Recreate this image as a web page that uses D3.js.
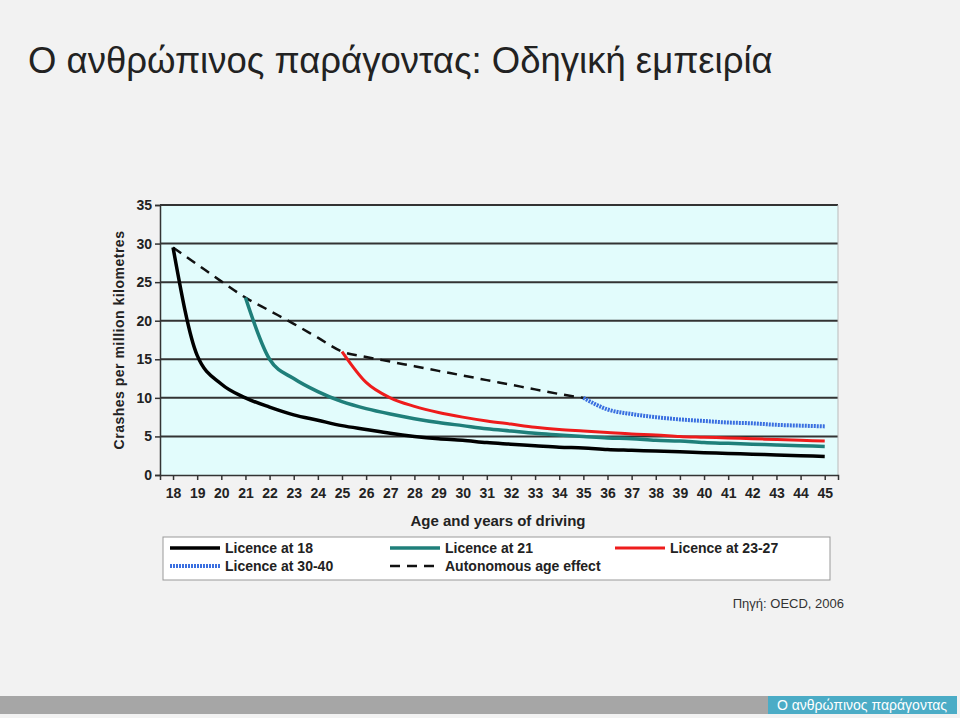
<!DOCTYPE html><html><head><meta charset="utf-8"><script src="https://cdn.jsdelivr.net/npm/d3@7"></script>
<style>body{margin:0;background:#f2f2f2}</style></head><body><svg id="c" width="960" height="718"></svg>
<script>
const years=d3.range(18,46);
const yTicks=[0,5,10,15,20,25,30,35];
const lic18=[29.5,15.5,11.8,10,8.8,7.8,7.1,6.4,5.9,5.4,5.0,4.7,4.5,4.2,4.0,3.8,3.6,3.5,3.3,3.2,3.1,3.0,2.9,2.8,2.7,2.6,2.5,2.4];
const lic21=[23,15,12.5,10.8,9.5,8.6,7.9,7.3,6.8,6.4,6.0,5.7,5.4,5.2,5.0,4.8,4.7,4.5,4.4,4.2,4.1,4.0,3.9,3.8,3.7];
const lic25=[16,12,10,8.9,8.1,7.5,7.0,6.6,6.2,5.9,5.7,5.5,5.3,5.2,5.0,4.9,4.8,4.7,4.6,4.5,4.4];
const lic35=[10,8.5,7.9,7.5,7.2,7.0,6.8,6.7,6.5,6.4,6.3];
const autoAge=[29.5,27.3,25.1,23,21.3,19.6,17.8,16,15.3,14.7,14.1,13.5,12.9,12.3,11.7,11.1,10.5,10];
const series=[
 {name:"Licence at 18",start:18,vals:lic18,color:"#000",dash:null,w:3.5},
 {name:"Licence at 21",start:21,vals:lic21,color:"#1f7f7a",dash:null,w:3.5},
 {name:"Licence at 23-27",start:25,vals:lic25,color:"#ee1c1c",dash:null,w:3},
 {name:"Licence at 30-40",start:35,vals:lic35,color:"#3a6fe0",dash:"2,1",w:4},
 {name:"Autonomous age effect",start:18,vals:autoAge,color:"#111",dash:"10,7",w:2.5}];
const svg=d3.select("#c");
svg.append("text").attr("x",28).attr("y",73).attr("font-family","Liberation Sans, Arial").attr("font-size",36.5).attr("fill","#222").text("Ο ανθρώπινος παράγοντας: Οδηγική εμπειρία");
const L=160,R=838,T=205,B=475;
const x=d3.scaleLinear().domain([17.46,45.55]).range([L,R]);
const y=d3.scaleLinear().domain([0,35]).range([B,T]);
svg.append("rect").attr("x",L).attr("y",T).attr("width",R-L).attr("height",B-T).attr("fill","#e2fcfc");
svg.append("g").selectAll("line").data(yTicks.filter(d=>d>0)).join("line").attr("x1",L).attr("x2",R).attr("y1",y).attr("y2",y).attr("stroke","#333").attr("stroke-width",2);
svg.append("line").attr("x1",R).attr("x2",R).attr("y1",T).attr("y2",B).attr("stroke","#bbb");
const f="Liberation Sans Narrow, Arial Narrow, Liberation Sans, sans-serif";
const ya=svg.append("g").attr("transform",`translate(${L},0)`).call(d3.axisLeft(y).tickValues(yTicks).tickSize(5));
const xa=svg.append("g").attr("transform",`translate(0,${B})`).call(d3.axisBottom(x).tickValues(years).tickFormat(d3.format("d")).tickSize(5));
[ya,xa].forEach(a=>{a.selectAll("text").attr("font-family",f).attr("font-weight","bold").attr("font-size",14).attr("fill","#222");a.selectAll("line,path").attr("stroke","#333").attr("stroke-width",1.5);});
xa.selectAll("text").attr("dy","1.1em");
svg.append("text").attr("x",498).attr("y",526).attr("text-anchor","middle").attr("font-family",f).attr("font-weight","bold").attr("font-size",15).attr("fill","#222").text("Age and years of driving");
svg.append("text").attr("transform","translate(124,340) rotate(-90)").attr("text-anchor","middle").attr("font-family",f).attr("font-weight","bold").attr("font-size",14).attr("letter-spacing","0.5").attr("fill","#222").text("Crashes per million kilometres");
const line=d3.line().x(d=>x(d[0])).y(d=>y(d[1])).curve(d3.curveMonotoneX);
series.slice().reverse().forEach(s=>{
 svg.append("path").datum(s.vals.map((v,i)=>[s.start+i,v])).attr("d",line).attr("fill","none").attr("stroke",s.color).attr("stroke-width",s.w).attr("stroke-dasharray",s.dash);
});
svg.append("rect").attr("x",163).attr("y",537).attr("width",667).attr("height",43).attr("fill","#fff").attr("stroke","#999");
const pos=[[170,548],[390,548],[615,548],[170,566],[390,566]];
series.forEach((s,i)=>{const [px,py]=pos[i];
 svg.append("line").attr("x1",px).attr("x2",px+50).attr("y1",py).attr("y2",py).attr("stroke",s.color).attr("stroke-width",s.w).attr("stroke-dasharray",s.dash);
 svg.append("text").attr("x",px+55).attr("y",py+5).attr("font-family",f).attr("font-weight","bold").attr("font-size",14).attr("fill","#222").text(s.name);});
svg.append("text").attr("x",844).attr("y",608).attr("text-anchor","end").attr("font-family","Liberation Sans, Arial").attr("font-size",13).attr("fill","#333").text("Πηγή: OECD, 2006");
svg.append("rect").attr("x",0).attr("y",696).attr("width",768).attr("height",18).attr("fill","#a6a6a6");
svg.append("rect").attr("x",768).attr("y",696).attr("width",189).attr("height",18).attr("fill","#4bacc6");
svg.append("text").attr("x",862).attr("y",710).attr("text-anchor","middle").attr("font-family","Liberation Sans, Arial").attr("font-size",14).attr("fill","#fff").text("Ο ανθρώπινος παράγοντας");
</script></body></html>
